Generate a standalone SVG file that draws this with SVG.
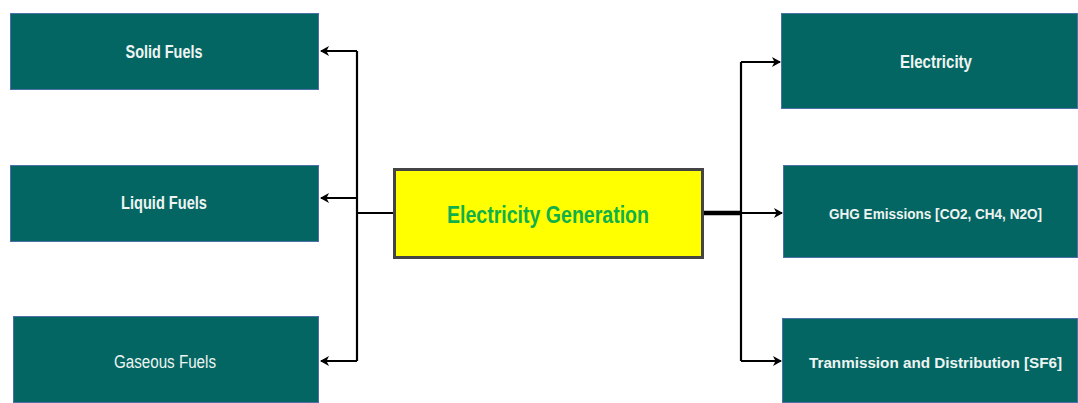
<svg xmlns="http://www.w3.org/2000/svg" width="1078" height="403" viewBox="0 0 1078 403">
<style>
.box{fill:#036663;stroke:#4f6fa8;stroke-width:1}
.lbl{font-family:"Liberation Sans",Arial,sans-serif;font-weight:bold;fill:#eef4f2;text-anchor:middle;dominant-baseline:central}
.reg{font-weight:normal}
.ln{fill:none;stroke:#000;stroke-width:2.2}
</style>
<defs>
<marker id="ah" markerWidth="10" markerHeight="10" refX="8" refY="5" orient="auto" markerUnits="userSpaceOnUse">
<path d="M0,0 L9,5 L0,10 L2.5,5 Z" fill="#000"/>
</marker>
</defs>
<rect width="1078" height="403" fill="#fff"/>
<g id="connectors">
<path class="ln" d="M393,213 H357"/>
<path class="ln" d="M357,51 V361"/>
<path class="ln" d="M357,51 H321" marker-end="url(#ah)"/>
<path class="ln" d="M357,198 H321" marker-end="url(#ah)"/>
<path class="ln" d="M357,361 H321" marker-end="url(#ah)"/>
<path fill="none" stroke="#000" stroke-width="4.5" d="M703,213 H741"/>
<path class="ln" d="M741,62 V361"/>
<path class="ln" d="M741,62 H780" marker-end="url(#ah)"/>
<path class="ln" d="M741,213 H782" marker-end="url(#ah)"/>
<path class="ln" d="M741,361 H781" marker-end="url(#ah)"/>
</g>
<g id="solid-fuels">
<rect class="box" x="10.5" y="13.5" width="308" height="76"/>
<text class="lbl" x="164" y="52" font-size="18" textLength="77" lengthAdjust="spacingAndGlyphs">Solid Fuels</text>
</g>
<g id="liquid-fuels">
<rect class="box" x="10.5" y="165.5" width="308" height="76"/>
<text class="lbl" x="164" y="203" font-size="18" textLength="86" lengthAdjust="spacingAndGlyphs">Liquid Fuels</text>
</g>
<g id="gaseous-fuels">
<rect class="box" x="13.5" y="316.5" width="305" height="86"/>
<text class="lbl reg" x="165" y="362" font-size="18" textLength="102" lengthAdjust="spacingAndGlyphs">Gaseous Fuels</text>
</g>
<g id="electricity-generation">
<rect x="394.5" y="169.5" width="308" height="88" fill="#ffff00" stroke="#444" stroke-width="3"/>
<text class="lbl" x="548" y="214" font-size="24" style="fill:#10b04a" textLength="202" lengthAdjust="spacingAndGlyphs">Electricity Generation</text>
</g>
<g id="electricity">
<rect class="box" x="781.5" y="13.5" width="296" height="95"/>
<text class="lbl" x="936" y="62" font-size="18" textLength="72" lengthAdjust="spacingAndGlyphs">Electricity</text>
</g>
<g id="ghg-emissions">
<rect class="box" x="783.5" y="165.5" width="294" height="92"/>
<text class="lbl" x="935.5" y="214" font-size="14" textLength="213" lengthAdjust="spacingAndGlyphs">GHG Emissions [CO2, CH4, N2O]</text>
</g>
<g id="transmission">
<rect class="box" x="782.5" y="318.5" width="295" height="84"/>
<text class="lbl" x="935.5" y="362" font-size="15" textLength="253" lengthAdjust="spacingAndGlyphs">Tranmission and Distribution [SF6]</text>
</g>
</svg>
